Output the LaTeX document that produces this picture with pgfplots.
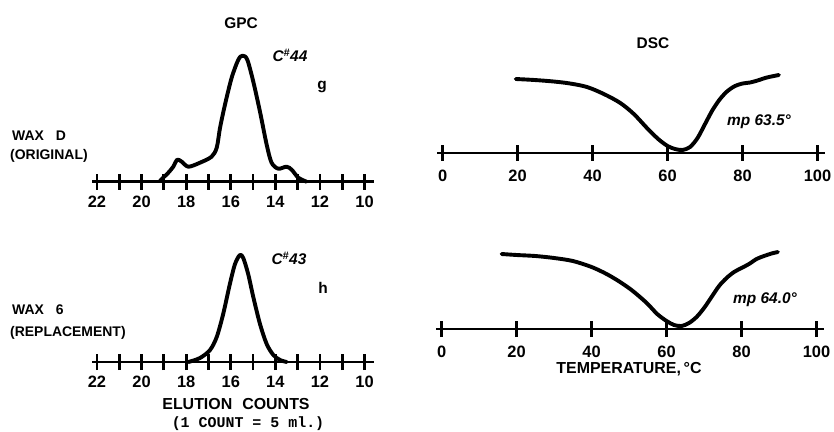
\documentclass[border=0pt]{standalone}
\usepackage{fontspec}
\setmainfont{Liberation Sans}
\setmonofont{Liberation Mono}
\usepackage{pgfplots}
\pgfplotsset{compat=1.18}

\pgfplotsset{
  trace/.style={
    scale only axis, enlargelimits=false, clip=false,
    axis y line=none, axis x line*=bottom, ymin=0, ytick=\empty,
    axis line style={line width=2.8bp, black},
    every tick/.style={line width=2.8bp, black},
    major tick length=16bp, tick align=center,
    xticklabel style={font=\bfseries\fontsize{16.5}{17}\selectfont, inner sep=0pt, anchor=north, yshift=-6bp},
  },
  gpc/.style={trace, x dir=reverse, xmin=9.6, xmax=22.2, width=281bp,
    ymax=130, height=130bp,
    xtick={10,...,22}, xticklabels={10,,12,,14,,16,,18,,20,,22}},
  dsc/.style={trace, xmin=-1.5, xmax=102, width=388bp,
    ymax=85, height=85bp,
    xtick={0,20,...,100}, xticklabels={0,20,40,60,80,100},
    xticklabel style={yshift=-2.5bp}},
  curve/.style={black, line width=3.9bp, smooth, tension=0.5, no markers, line join=round, line cap=round},
}

\begin{document}
\begin{tikzpicture}[x=1bp, y=1bp]
\useasboundingbox (0,0) rectangle (834,431);

% GPC, wax D (elution count vs detector response)
\begin{axis}[gpc, at={(92.5bp,249.3bp)}, anchor=south west]
\addplot[curve] coordinates {
 (19.17,1) (18.8,9) (18.58,15) (18.4,22) (18.2,20) (17.9,15) (17.38,19)
 (16.86,25) (16.63,34) (16.48,54) (16.26,77) (15.96,104) (15.66,122)
 (15.47,126) (15.26,122) (14.99,100) (14.69,70) (14.39,37) (14.17,19)
 (13.87,13) (13.5,15) (13.27,12) (12.97,4) (12.6,0)};
\end{axis}

% GPC, wax 6
\begin{axis}[gpc, at={(92.5bp,69bp)}, anchor=south west]
\addplot[curve] coordinates {
 (17.9,0) (17.38,4) (16.93,12) (16.63,25) (16.34,48) (16.04,78) (15.81,98)
 (15.59,107) (15.44,104) (15.22,88) (14.99,65) (14.69,38) (14.39,18)
 (14.09,7) (13.79,2) (13.49,0)};
\end{axis}

% DSC, wax D
\begin{axis}[dsc, at={(437bp,278bp)}, anchor=south west]
\addplot[curve] coordinates {
 (19.5,74) (24.5,73) (29.6,71.5) (34,69.5) (38.5,66) (43,59) (47.4,50)
 (51,39) (54.5,25) (57.5,14) (60,7) (62,4) (64,3) (66,6)
 (68,15) (70,29) (72,43) (74,54) (76,62) (78,67) (80,69.5) (82,70.5)
 (84,72.5) (86.5,75.5) (89.7,78)};
\end{axis}

% DSC, wax 6
\begin{axis}[dsc, at={(436bp,102bp)}, anchor=south west]
\addplot[curve] coordinates {
 (16,75) (20,74) (25,73) (30,71) (35,68) (40,62) (44,55) (47.6,47)
 (51,38) (54.7,26) (57.5,15) (60,8) (62,4) (64,3) (66,6) (68,12)
 (70,21) (72,32) (74,43) (76,51) (78,57) (80,61) (82,65) (84,70)
 (86,73) (88,75.5) (89.7,77)};
\end{axis}

% Headings and annotations
\begin{scope}[every node/.style={inner sep=0pt, font=\bfseries\fontsize{15.5}{16}\selectfont}]
\node at (241,408) {GPC};
\node at (653,388) {DSC};
\node at (290,376) {\itshape C\textsuperscript{\#}44};
\node at (322,344) {g};
\node at (289,173) {\itshape C\textsuperscript{\#}43};
\node at (323,143) {h};
\node[anchor=west, font=\bfseries\fontsize{14}{14}\selectfont] at (12,295) {WAX\hspace{12bp}D};
\node[anchor=west, font=\bfseries\fontsize{14}{14}\selectfont] at (10,275) {(ORIGINAL)};
\node[anchor=west, font=\bfseries\fontsize{14}{14}\selectfont] at (12,121) {WAX\hspace{12bp}6};
\node[anchor=west, font=\bfseries\fontsize{14}{14}\selectfont] at (10,98) {(REPLACEMENT)};
\node[font=\bfseries\fontsize{16}{17}\selectfont] at (236,27) {ELUTION\hspace{10bp}COUNTS};
\node[font=\ttfamily\bfseries\fontsize{15}{16}\selectfont] at (248,7) {(1 COUNT = 5 ml.)};
\node[font=\bfseries\itshape\fontsize{15.5}{16}\selectfont] at (759,309) {mp 63.5°};
\node[font=\bfseries\itshape\fontsize{15.5}{16}\selectfont] at (765,131) {mp 64.0°};
\node[font=\bfseries\fontsize{16}{17}\selectfont] at (629,62) {TEMPERATURE,\,°C};
\end{scope}
\end{tikzpicture}
\end{document}
